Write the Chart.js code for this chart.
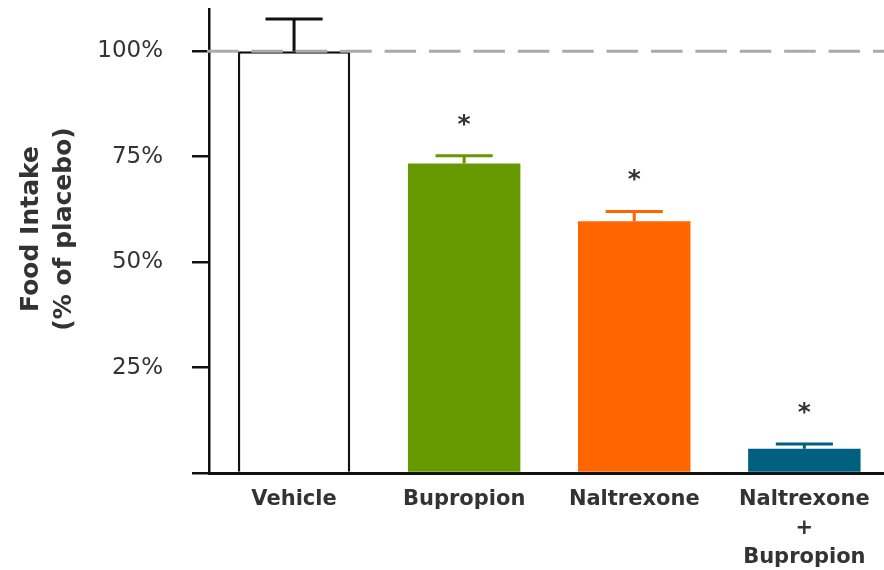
<!DOCTYPE html>
<html>
<head>
<meta charset="utf-8">
<title>Food Intake</title>
<script src="https://cdn.jsdelivr.net/npm/chart.js@4.4.1/dist/chart.umd.min.js"></script>
<style>
  html, body { margin: 0; padding: 0; background: #ffffff; overflow: hidden; width: 884px; height: 570px; }
  canvas { display: block; }
</style>
</head>
<body>
<canvas id="intakeChart" width="900" height="570"></canvas>
<script>
// Treatment groups and food intake (% of placebo), mean and SEM
const categories = ['Vehicle', 'Bupropion', 'Naltrexone', ['Naltrexone', '+', 'Bupropion']];
const intake = [100, 73.4, 59.7, 5.75];
const sem = [7.6, 1.8, 2.3, 1.15];
const significant = [false, true, true, true];
const yTicks = [0, 25, 50, 75, 100];
const yTitle = ['Food Intake', '(% of placebo)'];
const referenceLevel = 100;

const fillColors = ['#ffffff', '#669900', '#ff6600', '#006080'];
const lineColors = ['#111111', '#669900', '#ff6600', '#006080'];
const textColor = '#333333';

// Dashed reference line at 100%, error bars and significance stars
const annotations = {
  id: 'annotations',
  afterDatasetsDraw(chart) {
    const ctx = chart.ctx;
    const y = chart.scales.y;
    const area = chart.chartArea;
    const meta = chart.getDatasetMeta(0);

    // reference line
    ctx.save();
    ctx.strokeStyle = '#aaaaaa';
    ctx.lineWidth = 3;
    ctx.setLineDash([31.5, 12.9]);
    const yRef = y.getPixelForValue(referenceLevel);
    ctx.beginPath();
    ctx.moveTo(area.left - 2, yRef);
    ctx.lineTo(area.right + 20, yRef);
    ctx.stroke();
    ctx.restore();

    // error bars
    meta.data.forEach((bar, i) => {
      const top = y.getPixelForValue(intake[i] + sem[i]);
      const half = bar.width * 0.254;
      ctx.save();
      ctx.strokeStyle = lineColors[i];
      ctx.lineWidth = 3;
      ctx.beginPath();
      ctx.moveTo(bar.x, bar.y);
      ctx.lineTo(bar.x, top);
      ctx.moveTo(bar.x - half, top);
      ctx.lineTo(bar.x + half, top);
      ctx.stroke();
      ctx.restore();

      if (significant[i]) {
        ctx.save();
        ctx.fillStyle = textColor;
        ctx.font = 'bold 25px "DejaVu Sans"';
        ctx.textAlign = 'center';
        ctx.textBaseline = 'alphabetic';
        ctx.fillText('*', bar.x, top - 35 + 11);
        ctx.restore();
      }
    });
  },
  afterDraw(chart) {
    // two-line rotated y-axis title
    const ctx = chart.ctx;
    ctx.save();
    ctx.fillStyle = textColor;
    ctx.font = 'bold 25px "DejaVu Sans"';
    ctx.textAlign = 'center';
    ctx.textBaseline = 'middle';
    const centers = [31, 64];
    yTitle.forEach((line, k) => {
      ctx.save();
      ctx.translate(centers[k], 229);
      ctx.rotate(-Math.PI / 2);
      ctx.fillText(line, 0, 0);
      ctx.restore();
    });
    ctx.restore();
  }
};

new Chart(document.getElementById('intakeChart'), {
  type: 'bar',
  data: {
    labels: categories,
    datasets: [{
      data: intake,
      backgroundColor: fillColors,
      borderColor: lineColors,
      borderWidth: ctx => ctx.dataIndex === 0 ? { top: 2.5, left: 2.5, right: 2.5, bottom: 0 } : 0,
      borderSkipped: 'bottom',
      categoryPercentage: 1,
      barPercentage: 0.661
    }]
  },
  options: {
    responsive: false,
    animation: false,
    devicePixelRatio: 1,
    layout: { padding: { top: 9, right: 10.6, bottom: 0, left: 0 } },
    plugins: {
      legend: { display: false },
      tooltip: { enabled: false }
    },
    scales: {
      x: {
        offset: true,
        afterFit: s => { s.height = 97; s.paddingLeft = 0; s.paddingRight = 0; },
        grid: { display: false, drawTicks: false },
        border: { display: true, color: '#111111', width: 3 },
        ticks: {
          padding: 12,
          color: textColor,
          maxRotation: 0,
          autoSkip: false,
          font: { family: '"DejaVu Sans"', size: 21, weight: 'bold', lineHeight: 1.39 }
        }
      },
      y: {
        min: 0,
        max: 110,
        afterBuildTicks: s => { s.ticks = yTicks.map(v => ({ value: v })); },
        afterFit: s => { s.width = 209; s.paddingTop = 0; s.paddingBottom = 0; },
        grid: { drawOnChartArea: false, drawTicks: true, tickLength: 17, color: '#111111', lineWidth: 2.5 },
        border: { display: true, color: '#111111', width: 2.5 },
        ticks: {
          padding: 29,
          color: textColor,
          callback: v => v === 0 ? '' : v + '%',
          font: { family: '"DejaVu Sans"', size: 23 }
        }
      }
    }
  },
  plugins: [annotations]
});
</script>
</body>
</html>
